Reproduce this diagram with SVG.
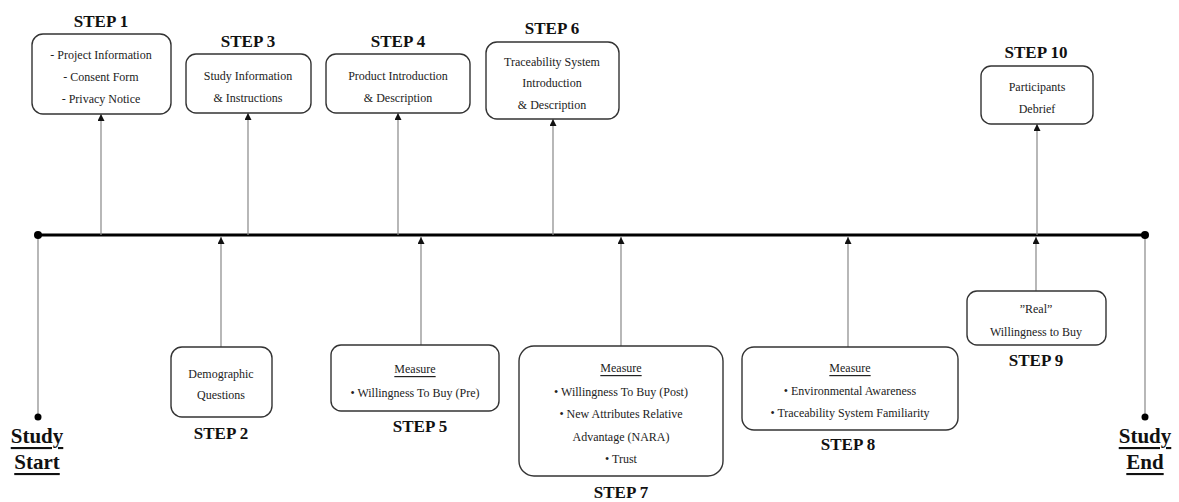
<svg xmlns="http://www.w3.org/2000/svg" width="1179" height="502" viewBox="0 0 1179 502">
<defs>
<marker id="ah" viewBox="0 0 10 10" refX="10" refY="5" markerWidth="8" markerHeight="7" markerUnits="userSpaceOnUse" orient="auto">
<path d="M0,0 L10,5 L0,10 z" fill="#111"/>
</marker>
</defs>
<style>
.box{fill:#fff;stroke:#333;stroke-width:1.4}
.t{font-family:"Liberation Serif","Times New Roman",serif;font-size:12px;fill:#222;text-anchor:middle;dominant-baseline:central}
.u{text-decoration:underline}
.step{font-family:"Liberation Serif","Times New Roman",serif;font-size:17px;font-weight:bold;fill:#111;text-anchor:middle;dominant-baseline:central}
.se{font-family:"Liberation Serif","Times New Roman",serif;font-size:21px;font-weight:bold;fill:#111;text-anchor:middle;dominant-baseline:central;text-decoration:underline}
.c{stroke:#888;stroke-width:1.2;fill:none}
</style>
<g id="connectors">
<line x1="38" y1="235" x2="1145" y2="235" stroke="#000" stroke-width="3"/>
<line class="c" x1="38" y1="235" x2="38" y2="417"/>
<line class="c" x1="1145" y1="235" x2="1145" y2="417"/>
<circle cx="38" cy="235" r="4" fill="#000"/>
<circle cx="1145" cy="235" r="4" fill="#000"/>
<circle cx="38" cy="417" r="3.5" fill="#000"/>
<circle cx="1145" cy="417" r="3.5" fill="#000"/>
<line class="c" x1="101" y1="235" x2="101" y2="114" marker-end="url(#ah)"/>
<line class="c" x1="248" y1="235" x2="248" y2="113" marker-end="url(#ah)"/>
<line class="c" x1="398" y1="235" x2="398" y2="113" marker-end="url(#ah)"/>
<line class="c" x1="553" y1="235" x2="553" y2="119" marker-end="url(#ah)"/>
<line class="c" x1="1037" y1="235" x2="1037" y2="124" marker-end="url(#ah)"/>
<line class="c" x1="221" y1="347" x2="221" y2="237" marker-end="url(#ah)"/>
<line class="c" x1="421" y1="345" x2="421" y2="237" marker-end="url(#ah)"/>
<line class="c" x1="621" y1="346" x2="621" y2="237" marker-end="url(#ah)"/>
<line class="c" x1="848" y1="347" x2="848" y2="237" marker-end="url(#ah)"/>
<line class="c" x1="1036" y1="291" x2="1036" y2="237" marker-end="url(#ah)"/>
</g>
<g id="start">
<text class="se" x="37" y="436">Study</text>
<text class="se" x="37" y="462">Start</text>
</g>
<g id="end">
<text class="se" x="1145" y="436">Study</text>
<text class="se" x="1145" y="462">End</text>
</g>
<g id="step1">
<text class="step" x="101" y="21">STEP 1</text>
<rect class="box" x="32" y="34" width="139" height="80" rx="11"/>
<text class="t" x="101" y="55">- Project Information</text>
<text class="t" x="101" y="77">- Consent Form</text>
<text class="t" x="101" y="99">- Privacy Notice</text>
</g>
<g id="step3">
<text class="step" x="248" y="41">STEP 3</text>
<rect class="box" x="186" y="54" width="125" height="59" rx="10"/>
<text class="t" x="248" y="76">Study Information</text>
<text class="t" x="248" y="98">&amp; Instructions</text>
</g>
<g id="step4">
<text class="step" x="398" y="41">STEP 4</text>
<rect class="box" x="326" y="54" width="144" height="59" rx="10"/>
<text class="t" x="398" y="76">Product Introduction</text>
<text class="t" x="398" y="98">&amp; Description</text>
</g>
<g id="step6">
<text class="step" x="552" y="28">STEP 6</text>
<rect class="box" x="486" y="42" width="133" height="77" rx="11"/>
<text class="t" x="552" y="62">Traceability System</text>
<text class="t" x="552" y="83">Introduction</text>
<text class="t" x="552" y="105">&amp; Description</text>
</g>
<g id="step10">
<text class="step" x="1036" y="52">STEP 10</text>
<rect class="box" x="981" y="66" width="112" height="58" rx="10"/>
<text class="t" x="1037" y="87">Participants</text>
<text class="t" x="1037" y="109">Debrief</text>
</g>
<g id="step2">
<rect class="box" x="171" y="347" width="101" height="70" rx="11"/>
<text class="t" x="221" y="374">Demographic</text>
<text class="t" x="221" y="395">Questions</text>
<text class="step" x="221" y="433">STEP 2</text>
</g>
<g id="step5">
<rect class="box" x="331" y="345" width="168" height="66" rx="10"/>
<text class="t u" x="415" y="369">Measure</text>
<text class="t" x="415" y="393">• Willingness To Buy (Pre)</text>
<text class="step" x="420" y="426">STEP 5</text>
</g>
<g id="step7">
<rect class="box" x="519" y="346" width="204" height="130" rx="15"/>
<text class="t u" x="621" y="368">Measure</text>
<text class="t" x="621" y="392">• Willingness To Buy (Post)</text>
<text class="t" x="621" y="414">•  New Attributes Relative</text>
<text class="t" x="621" y="437">Advantage (NARA)</text>
<text class="t" x="621" y="459">• Trust</text>
<text class="step" x="621" y="492">STEP 7</text>
</g>
<g id="step8">
<rect class="box" x="742" y="347" width="216" height="83" rx="12"/>
<text class="t u" x="850" y="368">Measure</text>
<text class="t" x="850" y="391">• Environmental Awareness</text>
<text class="t" x="850" y="413">• Traceability System Familiarity</text>
<text class="step" x="848" y="444">STEP 8</text>
</g>
<g id="step9">
<rect class="box" x="967" y="291" width="139" height="54" rx="10"/>
<text class="t" x="1036" y="309">”Real”</text>
<text class="t" x="1036" y="332">Willingness to Buy</text>
<text class="step" x="1036" y="360">STEP 9</text>
</g>
</svg>
